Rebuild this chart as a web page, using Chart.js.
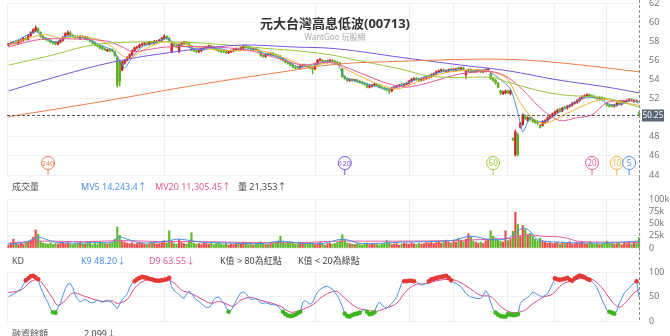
<!DOCTYPE html>
<html>
<head>
<meta charset="utf-8">
<script src="https://cdn.jsdelivr.net/npm/chart.js@4.4.1/dist/chart.umd.min.js"></script>
<style>
    body { margin: 0; background: #fff; width: 670px; height: 336px; overflow: hidden; position: relative; font-family: "Noto Sans", "Noto Sans CJK TC", sans-serif; }
    canvas { position: absolute; left: 0; }
    .t { position: absolute; white-space: nowrap; font-size: 9px; line-height: 1; color: #555; }
</style>
</head>
<body>
<canvas id="priceChart" width="670" height="178" style="top:0"></canvas>
<canvas id="volChart" width="670" height="74" style="top:178px"></canvas>
<canvas id="kdChart" width="670" height="84" style="top:252px"></canvas>

<div class="t" style="left:335px;top:17px;transform:translateX(-50%);font-size:13px;font-weight:bold;color:#333">元大台灣高息低波(00713)</div>
<div class="t" style="left:335px;top:33px;transform:translateX(-50%);font-size:8px;color:#aaa">WantGoo 玩股網</div>

<div class="t" style="left:12px;top:182px">成交量</div>
<div class="t" style="left:81px;top:182px;color:#4a8fe2">MV5 14,243.4↑</div>
<div class="t" style="left:155px;top:182px;color:#e2588f">MV20 11,305.45↑</div>
<div class="t" style="left:238px;top:182px;color:#444">量 21,353↑</div>

<div class="t" style="left:12px;top:256px">KD</div>
<div class="t" style="left:81px;top:256px;color:#4a8fe2">K9 48.20↓</div>
<div class="t" style="left:149px;top:256px;color:#e2588f">D9 63.55↓</div>
<div class="t" style="left:220px;top:256px;color:#444">K值 &gt; 80為紅點</div>
<div class="t" style="left:298px;top:256px;color:#444">K值 &lt; 20為綠點</div>

<div class="t" style="left:12px;top:329px">融資餘額</div>
<div class="t" style="left:84px;top:329px;color:#444">2,099↓</div>

<script>
// Daily candles (oldest first)
const open = [57.6,57.7,57.8,57.9,57.8,58.0,58.1,58.3,58.2,58.6, 58.9,59.1,59.3,58.9,58.5,58.3,58.2,58.1,57.9,57.9,
    57.7,57.9,58.1,58.5,58.7,58.9,58.6,58.5,58.5,58.3, 58.5,58.3,58.4,58.2,58.0,57.8,57.6,57.5,57.4,57.2,
    57.0,57.1,57.1,56.9,56.3,55.9,55.0,55.7,56.0,56.3, 56.6,57.0,57.3,57.4,57.6,57.7,57.8,57.7,57.9,57.8,
    57.9,58.0,58.1,58.3,58.5,58.3,56.9,57.7,57.5,56.9, 57.6,57.8,57.9,57.8,57.5,57.1,57.0,56.9,57.0,57.2,
    57.3,57.4,57.5,57.4,57.2,57.1,57.0,57.0,56.9,56.8, 56.9,57.0,57.1,57.2,57.1,57.3,57.5,57.4,57.3,57.1,
    57.2,57.1,56.8,56.5,56.4,56.7,56.6,56.7,56.6,56.5, 56.4,56.2,56.0,55.8,55.7,55.5,55.3,55.3,55.2,55.4,
    55.5,55.4,55.3,55.2,55.1,55.6,56.0,56.0,55.9,55.8, 55.9,56.0,55.9,55.8,55.7,55.1,54.3,54.1,53.9,54.0,
    53.9,53.9,53.8,53.7,53.6,53.5,53.2,53.3,53.4,53.5, 53.4,53.2,53.1,53.0,52.9,52.8,53.1,53.2,53.3,53.5,
    53.4,53.5,53.6,53.8,54.0,54.1,54.0,53.9,54.0,54.1, 54.2,54.3,54.5,54.6,54.8,54.9,55.0,54.8,54.9,55.1,
    55.0,55.0,55.2,55.1,55.2,54.5,54.9,55.0,54.9,54.8, 54.9,54.9,54.8,54.9,55.0,54.6,54.1,53.9,53.6,52.8,
    52.5,52.6,52.8,52.5,47.8,46.1,48.2,49.0,49.3,50.2, 49.7,50.0,49.8,49.7,49.6,49.2,49.2,49.5,49.7,50.0,
    50.2,50.4,50.6,50.9,50.7,51.1,51.0,51.2,51.3,51.5, 51.6,51.8,52.0,52.2,52.3,52.4,52.3,52.2,52.1,52.0,
    52.1,52.0,51.5,51.3,51.3,51.2,51.3,51.5,51.4,51.6, 51.7,51.8,51.9,51.7,51.8,50.5];
const close = [57.7,57.8,57.9,57.8,58.0,58.1,58.3,58.2,58.6,58.9, 59.2,59.4,59.0,58.5,58.3,58.2,58.1,57.9,57.8,57.7,
    57.9,58.1,58.4,58.8,58.9,58.6,58.5,58.4,58.4,58.5, 58.4,58.4,58.2,58.0,57.8,57.6,57.5,57.3,57.2,57.1,
    57.1,57.0,57.0,56.5,53.4,53.8,55.8,56.0,56.3,56.6, 57.0,57.3,57.4,57.6,57.7,57.8,57.7,57.9,57.8,58.0,
    58.0,58.1,58.3,58.5,58.3,58.1,57.7,57.5,57.4,57.6, 57.8,57.9,57.8,57.5,57.1,57.0,56.9,57.0,57.2,57.3,
    57.4,57.5,57.4,57.2,57.1,57.0,56.9,56.9,56.8,56.9, 57.0,57.1,57.2,57.1,57.3,57.5,57.4,57.3,57.2,57.2,
    57.1,57.0,56.5,56.4,56.6,56.6,56.7,56.6,56.5,56.4, 56.2,56.0,55.8,55.7,55.5,55.3,55.2,55.2,55.4,55.5,
    55.4,55.3,55.2,55.1,55.6,56.0,56.1,55.8,55.8,55.9, 56.0,55.9,55.8,55.7,55.6,54.3,54.1,53.9,54.0,53.9,
    53.9,53.8,53.7,53.6,53.5,53.2,53.3,53.4,53.5,53.4, 53.2,53.1,53.0,52.9,52.8,53.1,53.2,53.3,53.4,53.4,
    53.5,53.6,53.8,54.0,54.1,54.0,53.9,54.0,54.1,54.2, 54.3,54.5,54.6,54.8,54.9,55.0,54.9,54.9,55.0,55.0,
    55.0,55.1,55.1,55.2,55.1,54.9,55.0,54.8,54.8,54.9, 54.9,54.8,54.9,55.0,55.1,54.1,53.9,53.6,53.2,52.6,
    52.7,52.8,52.6,52.8,47.7,48.5,46.2,49.4,50.3,49.9, 50.0,49.8,49.6,49.5,49.4,49.0,49.6,49.7,50.0,50.2,
    50.4,50.6,50.8,50.7,51.0,51.0,51.2,51.3,51.5,51.6, 51.8,52.0,52.2,52.3,52.4,52.3,52.2,52.1,52.0,52.1,
    52.0,51.9,51.3,51.2,51.2,51.3,51.5,51.4,51.6,51.7, 51.8,51.9,51.8,51.8,51.7,50.25];
const high = [57.8,57.9,58.0,58.0,58.1,58.2,58.4,58.4,58.7,59.0, 59.3,59.6,59.4,59.0,58.6,58.4,58.3,58.2,58.0,58.0,
    58.0,58.2,58.5,58.9,59.1,59.0,58.7,58.6,58.6,58.6, 58.6,58.5,58.5,58.3,58.1,57.9,57.7,57.6,57.5,57.3,
    57.2,57.2,57.2,57.0,56.4,56.0,55.9,56.1,56.4,56.7, 57.1,57.4,57.5,57.7,57.8,57.9,57.9,58.0,58.0,58.1,
    58.1,58.2,58.4,58.7,58.6,58.4,57.8,57.8,57.6,57.7, 57.9,58.0,58.0,57.9,57.6,57.2,57.1,57.1,57.3,57.4,
    57.5,57.6,57.6,57.5,57.3,57.2,57.1,57.1,57.0,57.0, 57.1,57.2,57.3,57.3,57.4,57.6,57.6,57.5,57.4,57.3,
    57.3,57.2,56.9,56.6,56.7,56.8,56.8,56.8,56.7,56.6, 56.5,56.3,56.1,55.9,55.8,55.6,55.4,55.4,55.5,55.6,
    55.6,55.5,55.4,55.3,55.7,56.1,56.2,56.1,56.0,56.0, 56.1,56.1,56.0,55.9,55.8,55.2,54.4,54.2,54.1,54.1,
    54.0,54.0,53.9,53.8,53.7,53.6,53.4,53.5,53.6,53.6, 53.5,53.3,53.2,53.1,53.0,53.2,53.3,53.4,53.5,53.6,
    53.6,53.7,53.9,54.1,54.2,54.2,54.1,54.1,54.2,54.3, 54.4,54.6,54.7,54.9,55.0,55.1,55.1,55.0,55.1,55.2,
    55.1,55.2,55.3,55.3,55.3,55.0,55.1,55.1,55.0,55.0, 55.0,55.0,55.0,55.1,55.2,54.7,54.2,54.0,53.7,52.9,
    52.8,52.9,52.9,52.9,47.9,48.7,48.4,49.5,50.4,50.3, 50.1,50.1,49.9,49.8,49.7,49.3,49.7,49.8,50.1,50.3,
    50.5,50.7,50.9,51.0,51.1,51.2,51.3,51.4,51.6,51.7, 51.9,52.1,52.3,52.4,52.5,52.5,52.4,52.3,52.2,52.2,
    52.2,52.1,51.6,51.4,51.4,51.4,51.6,51.6,51.7,51.8, 51.9,52.0,52.0,51.9,51.9,50.6];
const low = [57.5,57.6,57.7,57.7,57.7,57.9,58.0,58.1,58.1,58.5, 58.8,59.0,58.9,58.4,58.2,58.1,58.0,57.8,57.7,57.6,
    57.6,57.8,58.0,58.4,58.6,58.5,58.4,58.3,58.3,58.2, 58.3,58.2,58.1,57.9,57.7,57.5,57.4,57.2,57.1,57.0,
    56.9,56.9,56.9,56.4,53.2,53.3,54.9,55.6,55.9,56.2, 56.5,56.9,57.2,57.3,57.5,57.6,57.6,57.6,57.7,57.7,
    57.8,57.9,58.0,58.2,58.2,58.0,56.8,57.4,57.3,56.8, 57.5,57.7,57.7,57.4,57.0,56.9,56.8,56.8,56.9,57.1,
    57.2,57.3,57.3,57.1,57.0,56.9,56.8,56.8,56.7,56.7, 56.8,56.9,57.0,57.0,57.0,57.2,57.3,57.2,57.1,57.0,
    57.0,56.9,56.4,56.3,56.3,56.5,56.5,56.5,56.4,56.3, 56.1,55.9,55.7,55.6,55.4,55.2,55.1,55.1,55.1,55.3,
    55.3,55.2,55.1,54.6,55.0,55.5,55.9,55.7,55.7,55.7, 55.8,55.8,55.7,55.6,55.5,54.2,54.0,53.8,53.8,53.8,
    53.8,53.7,53.6,53.5,53.4,53.1,53.1,53.2,53.3,53.3, 53.1,53.0,52.9,52.8,52.5,52.7,53.0,53.1,53.2,53.3,
    53.3,53.4,53.5,53.7,53.9,53.9,53.8,53.8,53.9,54.0, 54.1,54.2,54.4,54.5,54.7,54.8,54.8,54.7,54.8,54.9,
    54.9,54.9,55.0,55.0,55.0,54.1,54.8,54.7,54.7,54.7, 54.8,54.7,54.7,54.8,54.9,54.0,53.8,53.5,53.1,52.4,
    52.4,52.5,52.5,52.4,47.6,46.0,46.0,48.9,49.2,49.8, 49.6,49.7,49.5,49.4,49.3,48.9,49.1,49.4,49.6,49.9,
    50.1,50.3,50.5,50.6,50.6,50.9,50.9,51.1,51.2,51.4, 51.5,51.7,51.9,52.1,52.2,52.2,52.1,52.0,51.9,51.9,
    51.9,51.8,51.2,51.1,51.1,51.1,51.2,51.3,51.3,51.5, 51.6,51.7,51.7,51.6,51.6,50.2];

// Volume in thousands of shares
const volume = [6,8,18,9,7,10,8,12,14,16, 22,37,28,14,10,9,8,11,7,9, 8,10,12,9,11,8,7,9,10,12, 9,8,11,10,7,9,8,12,10,9,
    8,9,11,18,43,26,14,12,10,9, 11,8,9,12,10,8,7,9,11,10, 8,9,12,15,10,35,14,9,8,18, 11,9,8,12,31,10,8,9,7,11,
    9,8,10,7,9,11,8,7,9,6, 8,7,9,10,8,12,9,7,8,6, 8,10,13,9,7,8,10,9,11,14, 24,12,9,11,13,10,8,9,12,10,
    9,8,11,10,7,9,12,8,6,9, 10,8,9,12,14,27,16,10,9,8, 7,9,8,6,8,10,7,9,8,7, 6,8,9,15,10,7,8,9,6,8,
    10,9,8,11,9,7,10,8,9,11, 10,12,9,11,14,10,13,16,12,10, 14,12,20,15,13,18,29,22,14,12, 10,12,9,15,18,35,24,20,16,14,
    12,35,15,18,34,73,48,25,46,38, 27,30,24,18,15,20,14,12,10,11, 9,10,12,8,11,9,10,13,8,9, 11,10,12,9,8,13,10,8,9,7,
    8,10,14,9,11,8,9,10,7,12, 9,10,8,11,9,21];

// KD(9): K per day, D read as a smoother line
const kValues = [50,52,55,58,62,66,74,83,87,91, 92,89,85,68,57,46,37,25,18,17, 27,36,52,66,76,76,68,53,44,39,
    42,44,41,38,37,39,43,40,38,41, 43,40,37,30,25,35,44,49,55,68, 77,81,85,88,90,89,88,86,85,83,
    82,82,83,84,85,88,70,62,58,54, 49,46,55,61,56,49,43,40,36,31, 27,28,32,44,48,49,43,38,28,19,
    21,30,41,50,58,59,56,50,44,44, 46,42,37,36,37,36,34,33,33,30, 24,19,14,11,10,11,13,16,19,38,
    42,38,34,38,50,59,64,68,70,71, 68,65,58,52,42,30,15,10,9,12, 14,15,17,20,24,19,14,15,18,32,
    39,33,29,26,31,36,42,50,63,77, 81,81,82,82,81,80,76,73,75,77, 81,85,86,88,89,90,91,92,88,83,
    79,77,73,70,63,56,52,49,48,46, 46,46,52,62,55,38,24,17,13,10, 9,9,14,13,12,12,14,36,42,45,
    48,53,59,57,54,51,50,52,56,65, 76,87,85,84,85,86,88,84,82,87, 90,93,91,89,86,84,80,75,68,56,
    44,33,22,19,17,15,20,36,46,57, 62,67,73,77,81,48.2];
const dPoints = [[0,58],[5,63],[9,80],[12,84],[15,68],[18,45],[20,32],[23,42],[26,57],[30,52],[34,45],[38,40],
    [42,41],[44,36],[48,44],[51,67],[54,80],[58,85],[64,84],[67,78],[70,63],[74,56],[78,45],[82,36],[85,40],
    [88,35],[91,30],[94,43],[98,48],[102,42],[106,37],[110,30],[114,18],[118,22],[123,33],[127,50],[131,60],
    [133,60],[137,42],[141,27],[145,22],[149,20],[153,27],[157,36],[161,62],[165,75],[169,76],[173,82],[179,85],
    [183,78],[187,65],[191,52],[195,50],[199,30],[203,18],[208,20],[212,35],[216,48],[220,55],[224,75],[228,82],
    [232,87],[236,85],[240,68],[244,40],[247,28],[250,40],[253,58],[255,63.55]];

// Moving averages as [day, value]
const ma5 = [[0,57.7],[5,58.3],[11,59.0],[15,58.3],[19,57.9],[23,58.5],[30,58.4],[38,57.5],[42,57.1],[45,56.0],
    [47,55.2],[50,56.3],[54,57.4],[60,57.9],[64,58.3],[68,57.7],[74,57.3],[78,57.1],[84,57.3],[90,57.0],[98,57.2],
    [104,56.7],[111,56.2],[117,55.3],[121,55.4],[125,55.6],[129,55.9],[133,55.6],[136,54.2],[141,53.8],[147,53.4],
    [153,53.0],[159,53.4],[165,54.0],[171,54.5],[179,55.0],[187,54.9],[193,55.0],[198,54.2],[203,53.0],[206,50.5],
    [208,48.5],[211,50.0],[214,49.6],[218,49.7],[224,50.8],[232,52.0],[238,52.1],[242,51.5],[246,51.3],[252,51.8],[255,51.5]];
const ma10 = [[0,57.6],[9,58.4],[15,58.7],[21,58.3],[28,58.5],[36,58.2],[42,57.4],[46,56.5],[49,56.2],[54,57.0],
    [62,57.9],[70,57.7],[78,57.3],[90,57.0],[102,57.0],[111,56.3],[119,55.5],[123,55.4],[131,55.8],[137,55.0],
    [145,54.0],[151,53.4],[157,53.0],[163,53.5],[171,54.3],[179,54.8],[191,55.0],[198,54.6],[202,54.0],[206,52.0],
    [210,50.5],[214,49.6],[217,49.4],[224,50.2],[232,51.2],[240,51.9],[248,51.6],[255,51.3]];
const ma20 = [[0,57.4],[13,58.2],[30,58.2],[40,58.0],[46,57.4],[50,56.9],[56,57.1],[64,57.4],[82,57.4],[96,57.1],
    [109,56.2],[119,55.5],[127,55.8],[133,55.6],[143,54.6],[153,53.6],[161,53.2],[169,53.6],[183,54.6],[196,54.8],
    [202,54.2],[208,52.9],[216,50.8],[223,49.7],[230,50.0],[236,50.3],[242,51.6],[248,51.8],[255,51.7]];
const ma60 = [[0,55.5],[17,56.5],[34,57.6],[50,57.9],[70,57.9],[84,57.7],[102,57.3],[127,56.7],[143,55.9],
    [160,55.0],[169,54.4],[180,54.2],[196,54.2],[202,53.7],[221,52.5],[242,52.0],[255,51.1]];
const ma120 = [[0,52.8],[21,54.4],[42,55.8],[62,56.7],[84,57.4],[96,57.6],[115,57.4],[133,57.2],[159,56.3],
    [180,55.6],[202,54.9],[221,54.0],[242,53.2],[255,52.6]];
const ma240 = [[0,50.1],[38,51.7],[78,53.5],[111,54.8],[133,55.6],[159,55.9],[184,56.1],[202,56.1],[216,55.9],
    [232,55.5],[255,54.8]];

const volMv5 = [[0,8],[7,12],[12,22],[15,18],[19,12],[26,10],[34,11],[42,12],[45,22],[48,18],[54,10],[64,14],
    [68,18],[74,15],[78,12],[90,10],[102,9],[110,14],[118,10],[127,9],[135,18],[143,9],[159,12],[179,15],[187,24],
    [195,17],[202,20],[208,41],[211,34],[214,17],[222,12],[240,10],[255,14.2]];
const volMv20 = [[0,10],[13,14],[30,13],[46,15],[62,13],[78,13],[99,11],[118,11],[133,14],[143,14],[159,14],
    [179,15],[195,18],[203,20],[210,27],[216,24],[222,23],[226,20],[230,14],[240,12],[255,11.3]];

// Axis ranges [min, max, step] and month grid lines
const priceTicks = [44, 62, 2];
const volumeTicks = [0, 100, 25];
const kdTicks = [0, 100, 50];
const monthStarts = [63, 124, 162, 180, 202, 221, 242];
const maPeriods = [240, 120, 60, 20, 10, 5];
const maColors = ['#f07c4a', '#7a52e0', '#9cc63b', '#e75a9b', '#f5b335', '#4a8fe2'];

const N = close.length;
const upRed = '#c62828', downGreen = '#5cb021';
const isUp = close.map((c, i) => c >= open[i]);
const candleColors = isUp.map(u => u ? upRed : downGreen);
const volColors = isUp.map(u => u ? '#e84b4b' : '#5cb82a');

Chart.defaults.font.family = '"Noto Sans", "Noto Sans CJK TC", sans-serif';
Chart.defaults.animation = false;

function xAxis() {
    return {
        type: 'linear',
        min: -0.6,
        max: N - 0.2,
        offset: false,
        ticks: { display: false },
        grid: { color: '#eeeeee', drawTicks: false, offset: false },
        border: { display: false },
        afterBuildTicks: s => { s.ticks = [-0.6].concat(monthStarts).map(v => ({ value: v })); },
        afterFit: s => { s.height = 0; s.paddingLeft = 0; s.paddingRight = 0; }
    };
}

function yAxis(range, fmt) {
    return {
        position: 'right',
        min: range[0],
        max: range[1],
        beginAtZero: false,
        ticks: { stepSize: range[2], autoSkip: false, color: '#777', font: { size: 9 }, padding: 8, callback: fmt },
        grid: { color: '#f0f0f0', drawTicks: false },
        border: { display: false },
        // keep the plot edges where the layout padding puts them
        afterFit: s => { s.width = 29; s.paddingTop = 0; s.paddingBottom = 0; }
    };
}

function pairs(list) {
    return list.map(p => ({ x: p[0], y: p[1] }));
}

function maLine(list, color, tension) {
    return { type: 'line', data: pairs(list), borderColor: color, borderWidth: 1, pointRadius: 0, tension: tension, order: 0 };
}

// Dashed line through all panels at the latest day
const lastDayLine = {
    id: 'lastDayLine',
    afterDraw(chart, args, opts) {
        const ctx = chart.ctx;
        const x = chart.scales.x.getPixelForValue(N - 1);
        ctx.save();
        ctx.strokeStyle = '#8a8a8a';
        ctx.setLineDash([3, 2]);
        ctx.lineWidth = 1;
        ctx.beginPath();
        ctx.moveTo(Math.round(x) + 0.5, 0);
        ctx.lineTo(Math.round(x) + 0.5, opts.toBottom ? chart.chartArea.bottom : chart.height);
        ctx.stroke();
        ctx.restore();
    }
};

// Current price line, MA start markers and price tag
const priceExtras = {
    id: 'priceExtras',
    afterDraw(chart) {
        const ctx = chart.ctx;
        const area = chart.chartArea;
        const xs = chart.scales.x, ys = chart.scales.y;
        const last = close[N - 1];
        const py = Math.round(ys.getPixelForValue(last)) + 0.5;

        ctx.save();
        ctx.strokeStyle = '#555';
        ctx.setLineDash([3, 2]);
        ctx.lineWidth = 1;
        ctx.beginPath();
        ctx.moveTo(area.left, py);
        ctx.lineTo(area.right, py);
        ctx.stroke();
        ctx.setLineDash([]);

        maPeriods.forEach((p, k) => {
            const cx = xs.getPixelForValue(N - p);
            const cy = area.bottom - 12;
            ctx.strokeStyle = maColors[k];
            ctx.lineWidth = 1;
            ctx.beginPath();
            ctx.moveTo(cx, cy + 6.5);
            ctx.lineTo(cx, area.bottom);
            ctx.stroke();
            ctx.beginPath();
            ctx.arc(cx, cy, 6.5, 0, Math.PI * 2);
            ctx.fillStyle = '#fff';
            ctx.fill();
            ctx.stroke();
            ctx.fillStyle = maColors[k];
            ctx.font = (p >= 100 ? '7px' : '8px') + ' "Noto Sans", sans-serif';
            ctx.textAlign = 'center';
            ctx.textBaseline = 'middle';
            ctx.fillText(String(p), cx, cy + 0.5);
        });

        ctx.fillStyle = '#5b6677';
        ctx.fillRect(area.right + 1, py - 6, 22, 12);
        ctx.fillStyle = '#fff';
        ctx.font = '8px "Noto Sans", sans-serif';
        ctx.textAlign = 'center';
        ctx.textBaseline = 'middle';
        ctx.fillText(last.toFixed(2), area.right + 12, py + 0.5);
        ctx.restore();
    }
};

new Chart(document.getElementById('priceChart'), {
    type: 'line',
    data: {
        datasets: [
            maLine(ma240, maColors[0], 0.4),
            maLine(ma120, maColors[1], 0.4),
            maLine(ma60, maColors[2], 0.4),
            maLine(ma20, maColors[3], 0.3),
            maLine(ma10, maColors[4], 0.3),
            maLine(ma5, maColors[5], 0.2),
            {
                type: 'bar',
                data: close.map((c, i) => ({ x: i, y: [low[i], high[i]] })),
                backgroundColor: candleColors,
                barThickness: 0.7,
                grouped: false,
                order: 6
            },
            {
                type: 'bar',
                data: close.map((c, i) => ({ x: i, y: [open[i], c] })),
                backgroundColor: candleColors,
                barThickness: 1.8,
                minBarLength: 1,
                grouped: false,
                order: 5
            }
        ]
    },
    options: {
        responsive: false,
        layout: { padding: { left: 7, top: 3, right: 0, bottom: 3 } },
        plugins: { legend: { display: false }, tooltip: { enabled: false }, lastDayLine: { toBottom: false } },
        scales: { x: xAxis(), y: yAxis(priceTicks) }
    },
    plugins: [priceExtras, lastDayLine]
});

new Chart(document.getElementById('volChart'), {
    type: 'line',
    data: {
        datasets: [
            maLine(volMv5, '#4a8fe2', 0.3),
            maLine(volMv20, '#e75a9b', 0.3),
            {
                type: 'bar',
                data: volume.map((v, i) => ({ x: i, y: v })),
                backgroundColor: volColors,
                barThickness: 1.5,
                grouped: false,
                order: 5
            }
        ]
    },
    options: {
        responsive: false,
        layout: { padding: { left: 7, top: 21, right: 0, bottom: 4 } },
        plugins: { legend: { display: false }, tooltip: { enabled: false }, lastDayLine: { toBottom: false } },
        scales: { x: xAxis(), y: yAxis(volumeTicks, v => v === 0 ? '0' : v + 'k') }
    },
    plugins: [lastDayLine]
});

new Chart(document.getElementById('kdChart'), {
    type: 'line',
    data: {
        datasets: [
            { data: pairs(dPoints), borderColor: '#d9468f', borderWidth: 1, pointRadius: 0, tension: 0.35, order: 1 },
            {
                data: kValues.map((v, i) => ({ x: i, y: v })),
                borderColor: '#4a8fe2',
                borderWidth: 1,
                pointRadius: ctx => (ctx.raw.y > 80 || ctx.raw.y < 20) ? 2.3 : 0,
                pointBackgroundColor: ctx => ctx.raw.y > 80 ? '#e53935' : '#3db51f',
                pointBorderWidth: 0,
                order: 0
            }
        ]
    },
    options: {
        responsive: false,
        layout: { padding: { left: 7, top: 20, right: 0, bottom: 15 } },
        plugins: { legend: { display: false }, tooltip: { enabled: false }, lastDayLine: { toBottom: true } },
        scales: { x: xAxis(), y: yAxis(kdTicks) }
    },
    plugins: [lastDayLine]
});
</script>
</body>
</html>
